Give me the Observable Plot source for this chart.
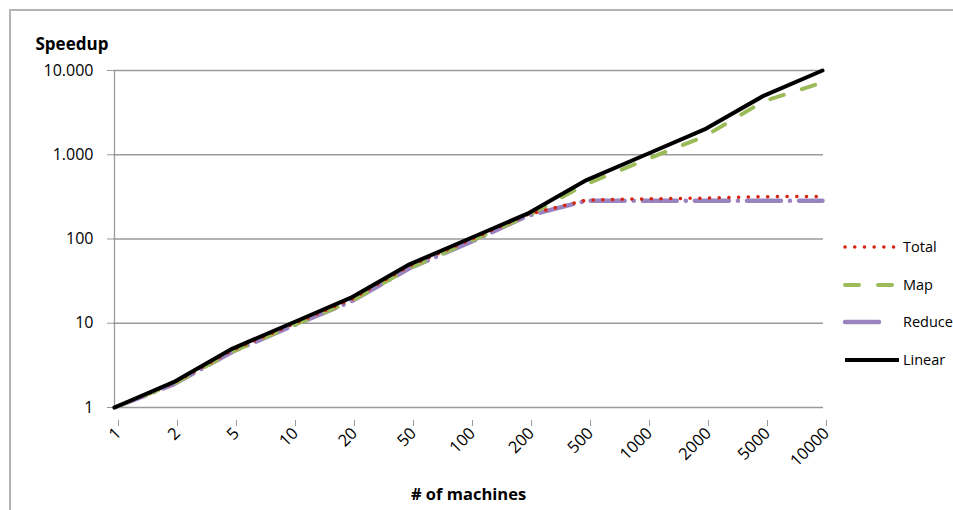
<!DOCTYPE html>
<html>
<head>
<meta charset="utf-8">
<script src="https://cdn.jsdelivr.net/npm/d3@7"></script>
<script src="https://cdn.jsdelivr.net/npm/@observablehq/plot@0.6"></script>
<style>
  html, body { margin: 0; padding: 0; background: #fff; overflow: hidden; }
  #wrap { position: relative; width: 953px; height: 510px; overflow: hidden; }
  #frame { position: absolute; left: 9px; top: 9px; width: 1200px; height: 800px;
           border-left: 2px solid #b3b3b3; border-top: 2px solid #b3b3b3; }
  #chart { position: absolute; left: 0; top: 0; }
  #legend { position: absolute; left: 0; top: 0; pointer-events: none; }
</style>
</head>
<body>
<div id="wrap"><div id="frame"></div><div id="chart"></div></div>
<script>
const machines = ["1","2","5","10","20","50","100","200","500","1000","2000","5000","10000"];
const linearVals = [1,2,5,10,20,50,100,200,500,1000,2000,5000,10000];
const mapVals    = [1,1.9,4.6,9.3,18,45,92,188,450,870,1650,4300,7200];
const reduceVals = [1,1.88,4.6,9.2,18,45,90,188,285,285,285,285,285];
const totalVals  = [1,1.95,4.8,9.6,19,48,96,195,290,300,305,318,320];
const seriesNames = ["Total","Map","Reduce","Linear"];
const yTicks = [1,10,100,1000,10000];

const font = "'Open Sans', 'Liberation Sans', sans-serif";
const styles = {
  Total:  {stroke:"#d9230f", strokeWidth:3.5, strokeDasharray:"0.1 9.6", strokeLinecap:"round"},
  Map:    {stroke:"#9bbb59", strokeWidth:4, strokeDasharray:"14 19", strokeLinecap:"round"},
  Reduce: {stroke:"#9a84c0", strokeWidth:4.5, strokeDasharray:"34 9 0.1 9", strokeLinecap:"round"},
  Linear: {stroke:"#000000", strokeWidth:4, strokeLinecap:"round"}
};
const valuesBy = {Total: totalVals, Map: mapVals, Reduce: reduceVals, Linear: linearVals};
const rows = name => machines.map((m, i) => ({m, v: valuesBy[name][i]}));
const fmt = d => d3.format(",")(d).replace(/,/g, ".");

const drawOrder = ["Reduce","Map","Total","Linear"];

const chart = Plot.plot({
  width: 953,
  height: 510,
  marginLeft: 113,
  marginRight: 130,
  marginTop: 70,
  marginBottom: 103,
  style: {fontFamily: font, background: "transparent", overflow: "visible"},
  x: {type: "point", domain: machines, padding: 0, inset: 0},
  y: {type: "log", domain: [1, 10000]},
  marks: [
    Plot.ruleY(yTicks, {stroke: "#9a9a9a", strokeWidth: 1.3}),
    Plot.ruleX([machines[0]], {stroke: "#9a9a9a", strokeWidth: 1.3}),
    Plot.axisY({ticks: yTicks, tickFormat: fmt, tickSize: 6, tickPadding: 14,
                stroke: "#9a9a9a", fill: "#000", fontSize: 16, label: null}),
    Plot.axisX({tickRotate: -45, tickSize: 6, tickPadding: 4, stroke: "#9a9a9a",
                fill: "#000", fontSize: 16.5, label: null, dx: 4, dy: 13}),
    ...drawOrder.map(name => Plot.line(rows(name), {x: "m", y: "v", ...styles[name]})),
    Plot.text(["# of machines"], {frameAnchor: "bottom", dy: 92, fontWeight: "bold",
                fontSize: 16.5, fill: "#000"}),
    Plot.text(["Speedup"], {frameAnchor: "top-left", dx: -78, dy: -33, textAnchor: "start",
                fontWeight: "bold", fontSize: 17, fill: "#000"})
  ]
});
document.getElementById("chart").appendChild(chart);

// Legend (drawn on the right, inside the chart frame)
const leg = d3.select("#wrap").append("svg").attr("id", "legend")
  .attr("width", 953).attr("height", 510);
const legY = {Total: 247, Map: 285, Reduce: 322, Linear: 360};
seriesNames.forEach(name => {
  const s = styles[name];
  const g = leg.append("g");
  g.append("line").attr("x1", 845).attr("x2", name === "Linear" ? 899 : 894)
    .attr("y1", legY[name]).attr("y2", legY[name])
    .attr("stroke", s.stroke).attr("stroke-width", s.strokeWidth)
    .attr("stroke-linecap", name === "Linear" ? "butt" : "round")
    .attr("stroke-dasharray", name === "Reduce" ? "34 17 0.1 20" : (s.strokeDasharray || null));
  g.append("text").attr("x", 903).attr("y", legY[name]).attr("dy", "0.35em")
    .attr("font-family", font).attr("font-size", 14.5).attr("fill", "#000").text(name);
});
</script>
</body>
</html>
